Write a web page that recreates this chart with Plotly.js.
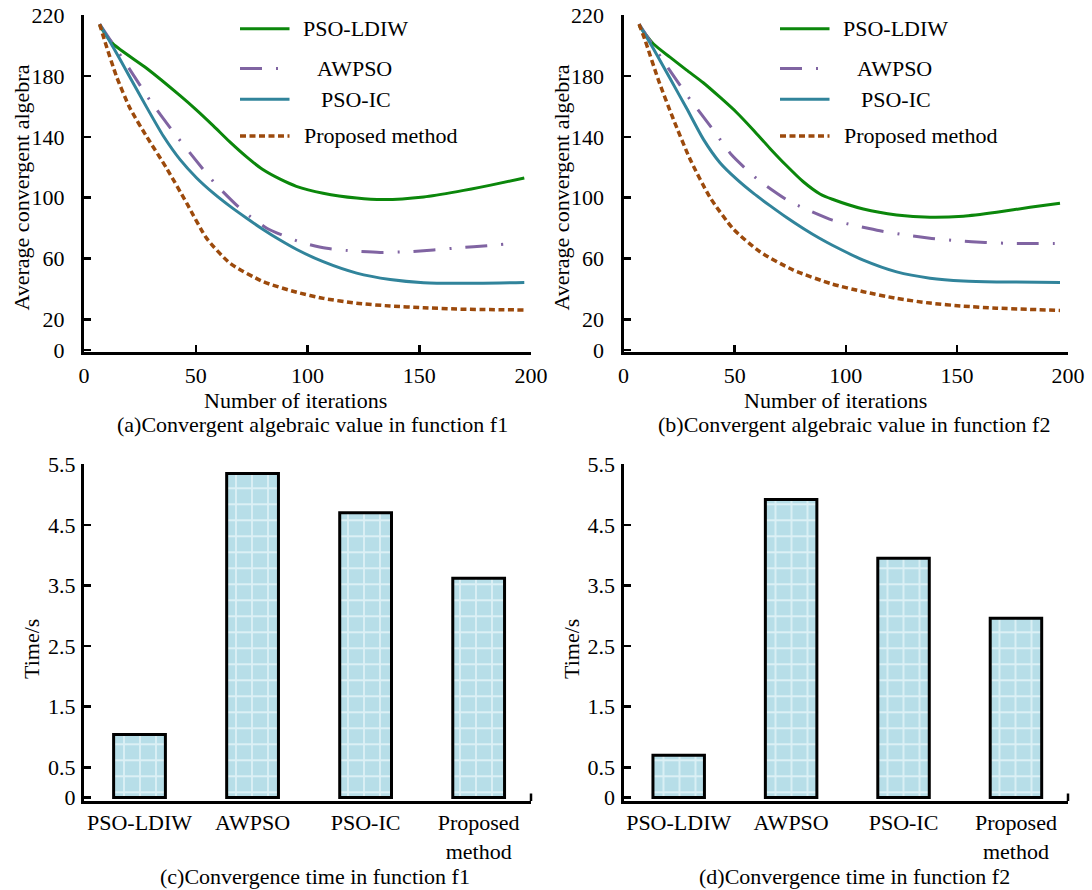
<!DOCTYPE html>
<html><head><meta charset="utf-8">
<script src="https://cdn.plot.ly/plotly-3.0.1.min.js"></script>
<style>html,body{margin:0;padding:0;background:#fff}#chart{width:1092px;height:890px}</style>
</head><body><div id="chart"></div>
<script>
// ---------------- data ----------------
const seriesNames = ['PSO-LDIW', 'AWPSO', 'PSO-IC', 'Proposed method'];

// (a) function f1
const aLdiwX  = [7, 13, 28, 43, 50, 58, 65, 73, 80, 88, 95, 107, 122, 134, 152, 167, 182, 197];
const aLdiwY  = [213, 201, 185, 167, 158, 147, 137, 126.5, 118.5, 112, 107.5, 103, 99.8, 98.8, 100.5, 104, 108.3, 113];
const aAwpsoX = [7, 20.6, 29.5, 39.3, 48.2, 58.6, 70.6, 81.8, 97.4, 108.6, 120.5, 132.5, 144.4, 156.4, 168.3, 180.3, 192];
const aAwpsoY = [214, 184, 164, 144.5, 128, 109.4, 92, 80, 70.6, 66.8, 65, 64.1, 64.5, 65.7, 67.2, 68.5, 70.1];
const aIcX    = [7, 13, 20.6, 28, 35.5, 43, 50.4, 57.9, 65.4, 72.8, 80.3, 87.7, 95.2, 107, 122, 137, 152, 167, 197];
const aIcY    = [214, 199, 179, 159.5, 140.5, 125, 113, 103, 94.3, 86.5, 79, 72.2, 66, 58, 50.5, 46.3, 44.2, 43.8, 44.4];
const aPropX  = [7, 9.4, 14.6, 20.6, 28.1, 37, 46, 54.9, 65.4, 80.3, 95.2, 107.1, 122, 137, 151.9, 166.8, 197.3];
const aPropY  = [214, 202.4, 179.4, 158.7, 140, 119.3, 96.3, 73.3, 56.9, 44.8, 37.9, 33.9, 30.7, 28.9, 27.8, 26.9, 26.3];

// (b) function f2
const bLdiwX  = [7, 13.4, 20.9, 28.4, 35.9, 43.4, 50.9, 58.4, 65.9, 73.4, 80.9, 88.4, 94, 107.9, 122.9, 137.9, 152.9, 167.9, 182.9, 196.4];
const bLdiwY  = [213, 201.1, 192.3, 183.8, 175.5, 166, 156, 144.5, 132.4, 121, 110.5, 102.5, 99, 92.6, 88.7, 87.2, 87.9, 90.5, 93.7, 96.4];
const bAwpsoX = [7, 20.2, 30.2, 40.4, 48.7, 60.4, 74.2, 80.6, 94, 103.4, 115.4, 127.1, 138.7, 150.6, 162.7, 174.7, 185.9, 197.4];
const bAwpsoY = [214, 184.9, 164.1, 144.5, 128, 112, 98, 93.5, 85.3, 82, 78.3, 75.5, 73.3, 71.7, 70.6, 70, 70, 70];
const bIcX    = [7, 13.4, 20.9, 28.4, 35.9, 43.4, 50.9, 58.4, 65.9, 73.4, 80.9, 88.4, 94, 107.9, 122.9, 137.9, 152.9, 167.9, 196.4];
const bIcY    = [214, 198, 178.4, 158.7, 138.5, 123, 112.2, 103, 94.8, 87, 79.8, 73.2, 68.8, 59, 51.3, 47.2, 45.3, 44.7, 44.4];
const bPropX  = [7, 9.7, 15.7, 22.4, 29.9, 38.9, 49.4, 61.4, 76.4, 93.5, 107.9, 122.9, 137.9, 152.9, 167.9, 196.4];
const bPropY  = [214, 203.5, 177.3, 151.7, 125.5, 100.3, 79.5, 64.5, 52.5, 43.5, 38.3, 33.9, 30.8, 28.8, 27.5, 26];

// (c),(d) convergence time
const barLabels = ['PSO-LDIW', 'AWPSO', 'PSO-IC', 'Proposed<br>method'];
const cTimes = [1.04, 5.35, 4.70, 3.62];
const dTimes = [0.70, 4.92, 3.95, 2.96];

// tick labels
const lineYTicks = [0, 20, 60, 100, 140, 180, 220];
const lineXTicks = [0, 50, 100, 150, 200];
const barYTicks = [0, 0.5, 1.5, 2.5, 3.5, 4.5, 5.5];

// text
const captions = ['(a)Convergent algebraic value in function f1', '(b)Convergent algebraic value in function f2',
                  '(c)Convergence time in function f1', '(d)Convergence time in function f2'];
const xTitleLine = 'Number of iterations';
const yTitleLine = 'Average convergent algebra';
const yTitleBar = 'Time/s';

// ---------------- styles ----------------
const W = 1092, H = 890;
const FONT = '"Liberation Serif", "Times New Roman", serif';
const lineStyles = [
  {color: '#0b870b', width: 3, dash: 'solid'},
  {color: '#8064a2', width: 3, dash: '22px,14px,2px,14px'},
  {color: '#31849b', width: 3, dash: 'solid'},
  {color: '#9c4a0c', width: 3.5, dash: '6px,3.5px'}
];
const px2x = p => p / W;
const py2y = p => 1 - p / H;

const aData = [[aLdiwX, aLdiwY], [aAwpsoX, aAwpsoY], [aIcX, aIcY], [aPropX, aPropY]];
const bData = [[bLdiwX, bLdiwY], [bAwpsoX, bAwpsoY], [bIcX, bIcY], [bPropX, bPropY]];

const traces = [];
aData.forEach((d, i) => traces.push({
  type: 'scatter', mode: 'lines', x: d[0], y: d[1], name: seriesNames[i], xaxis: 'x', yaxis: 'y',
  line: Object.assign({shape: 'spline', smoothing: 0.6}, lineStyles[i]), showlegend: false, hoverinfo: 'skip'
}));
bData.forEach((d, i) => traces.push({
  type: 'scatter', mode: 'lines', x: d[0], y: d[1], name: seriesNames[i], xaxis: 'x2', yaxis: 'y2',
  line: Object.assign({shape: 'spline', smoothing: 0.6}, lineStyles[i]), showlegend: false, hoverinfo: 'skip'
}));
const barMarker = {
  color: '#b7dee8',
  line: {color: '#000', width: 3},
  pattern: {shape: '+', size: 16, solidity: 0.22, fgcolor: '#dcf0f5', bgcolor: '#b7dee8', fillmode: 'replace'}
};
traces.push({type: 'bar', x: barLabels, y: cTimes, xaxis: 'x3', yaxis: 'y3', width: 0.458, marker: barMarker, showlegend: false, hoverinfo: 'skip'});
traces.push({type: 'bar', x: barLabels, y: dTimes, xaxis: 'x4', yaxis: 'y4', width: 0.458, marker: barMarker, showlegend: false, hoverinfo: 'skip'});

const tickFont = {family: FONT, size: 22, color: '#000'};
const leftDom = [px2x(84), px2x(531)];
const rightDom = [px2x(623.5), px2x(1068)];
const topDom = [py2y(352.3), py2y(15)];
const botDom = [py2y(800.7), py2y(464.3)];

function lineX(dom, anchor) {
  return {domain: dom, anchor: anchor, range: [0, 200], tickvals: lineXTicks, ticks: 'inside', ticklen: 7, tickwidth: 2.5,
    tickcolor: '#000', showline: true, linecolor: '#000', linewidth: 3, showgrid: false, zeroline: false,
    tickfont: tickFont, ticklabelstandoff: 1, fixedrange: true};
}
function lineY(anchor) {
  return {domain: topDom, anchor: anchor, range: [-1.5, 220], tickvals: lineYTicks, ticks: 'inside', ticklen: 7, tickwidth: 2.5,
    tickcolor: '#000', showline: true, linecolor: '#000', linewidth: 3, showgrid: false, zeroline: false,
    tickfont: tickFont, ticklabelstandoff: 12, fixedrange: true};
}
function barX(dom, anchor) {
  return {domain: dom, anchor: anchor, type: 'category', range: [-0.491, 3.463], ticks: '', showline: true,
    linecolor: '#000', linewidth: 3, showgrid: false, zeroline: false, tickfont: tickFont, ticklabelstandoff: 0, fixedrange: true};
}
function barY(anchor) {
  return {domain: botDom, anchor: anchor, range: [-0.051, 5.5], tickvals: barYTicks, ticktext: barYTicks.map(String),
    ticks: 'inside', ticklen: 7, tickwidth: 2.5, tickcolor: '#000', showline: true, linecolor: '#000', linewidth: 3,
    showgrid: false, zeroline: false, tickfont: tickFont, ticklabelstandoff: 1, fixedrange: true};
}

const annFont = {family: FONT, size: 22, color: '#000'};
const annotations = [];
function addText(text, x, y, opts) {
  annotations.push(Object.assign({text: text, x: px2x(x), y: py2y(y), xref: 'paper', yref: 'paper',
    showarrow: false, xanchor: 'center', yanchor: 'middle', font: annFont}, opts || {}));
}
addText(captions[0], 312.8, 424);
addText(captions[1], 853.7, 424);
addText(captions[2], 314.6, 876);
addText(captions[3], 854.6, 876);
addText(xTitleLine, 295.8, 400);
addText(xTitleLine, 835.8, 400);
addText(yTitleLine, 21, 187.5, {textangle: -90});
addText(yTitleLine, 561, 187.5, {textangle: -90});
addText(yTitleBar, 31, 649, {textangle: -90});
addText(yTitleBar, 571, 649, {textangle: -90});

// legends (one per line panel)
const legRowY = [28.8, 68.6, 99.2, 135.9];
const legTextX = [303, 317, 321.4, 303.5];
const shapes = [];
[0, 540].forEach(off => {
  seriesNames.forEach((nm, i) => {
    shapes.push({type: 'line', xref: 'paper', yref: 'paper', x0: px2x(240 + off), x1: px2x(289.5 + off),
      y0: py2y(legRowY[i]), y1: py2y(legRowY[i]), line: lineStyles[i]});
    addText(nm, legTextX[i] + off - 2, legRowY[i], {xanchor: 'left'});
  });
});
// right-end ticks on the bar chart axes
['x3', 'x4'].forEach(ax => {
  shapes.push({type: 'line', xref: ax + ' domain', yref: 'paper', x0: 1, x1: 1, y0: py2y(801), y1: py2y(793.5),
    line: {color: '#000', width: 2.5}});
});

const layout = {
  width: W, height: H, margin: {l: 0, r: 0, t: 0, b: 0},
  paper_bgcolor: '#fff', plot_bgcolor: 'rgba(0,0,0,0)', font: {family: FONT, size: 22, color: '#000'},
  showlegend: false, bargap: 0,
  xaxis: lineX(leftDom, 'y'), yaxis: lineY('x'),
  xaxis2: lineX(rightDom, 'y2'), yaxis2: lineY('x2'),
  xaxis3: barX(leftDom, 'y3'), yaxis3: barY('x3'),
  xaxis4: barX(rightDom, 'y4'), yaxis4: barY('x4'),
  annotations: annotations, shapes: shapes
};
Plotly.newPlot('chart', traces, layout, {displayModeBar: false, staticPlot: true});
</script>
</body></html>
